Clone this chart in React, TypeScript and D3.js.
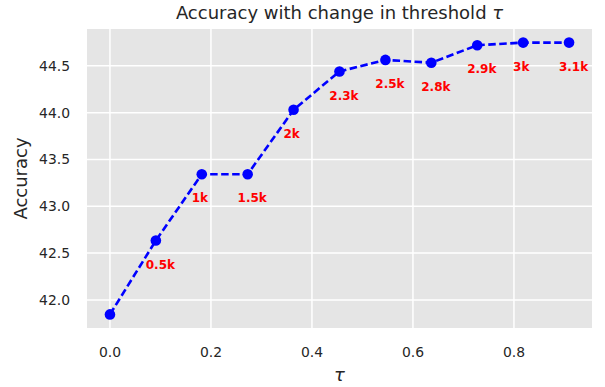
import { useMemo } from "react";
import { line, scaleLinear } from "d3";

const WIDTH = 605;
const HEIGHT = 387;
const MARGIN = { top: 29, right: 13, bottom: 59, left: 87 };

const TAU = [0, 0.0909, 0.1818, 0.2727, 0.3636, 0.4545, 0.5455, 0.6364, 0.7273, 0.8182, 0.9091];
const ACCURACY = [41.845, 42.634, 43.342, 43.342, 44.03, 44.44, 44.563, 44.533, 44.72, 44.748, 44.748];
const SIZES = ["", "0.5k", "1k", "1.5k", "2k", "2.3k", "2.5k", "2.8k", "2.9k", "3k", "3.1k"];
const X_TICKS = [0, 0.2, 0.4, 0.6, 0.8];
const Y_TICKS = [42.0, 42.5, 43.0, 43.5, 44.0, 44.5];

const FONT = "'DejaVu Sans', sans-serif";
const TEXT = "#262626";

export default function App() {
  const innerW = WIDTH - MARGIN.left - MARGIN.right;
  const innerH = HEIGHT - MARGIN.top - MARGIN.bottom;

  // matplotlib-style 5% margins around the data
  const xScale = useMemo(() => {
    const lo = Math.min(...TAU);
    const hi = Math.max(...TAU);
    const pad = (hi - lo) * 0.05;
    return scaleLinear().domain([lo - pad, hi + pad]).range([MARGIN.left, MARGIN.left + innerW]);
  }, [innerW]);
  const yScale = useMemo(() => {
    const lo = Math.min(...ACCURACY);
    const hi = Math.max(...ACCURACY);
    const pad = (hi - lo) * 0.05;
    return scaleLinear().domain([lo - pad, hi + pad]).range([MARGIN.top + innerH, MARGIN.top]);
  }, [innerH]);

  const path = line<number>()
    .x((_, i) => xScale(TAU[i]))
    .y((v) => yScale(v))(ACCURACY);

  return (
    <svg width={WIDTH} height={HEIGHT} style={{ position: "absolute", left: 0, top: 0, fontFamily: FONT }}>
      <rect x={0} y={0} width={WIDTH} height={HEIGHT} fill="#ffffff" />
      <rect x={MARGIN.left} y={MARGIN.top} width={innerW} height={innerH} fill="#e5e5e5" />
      {X_TICKS.map((t) => (
        <line key={`gx${t}`} x1={xScale(t)} x2={xScale(t)} y1={MARGIN.top} y2={MARGIN.top + innerH} stroke="#ffffff" strokeWidth={1.5} />
      ))}
      {Y_TICKS.map((t) => (
        <line key={`gy${t}`} x1={MARGIN.left} x2={MARGIN.left + innerW} y1={yScale(t)} y2={yScale(t)} stroke="#ffffff" strokeWidth={1.5} />
      ))}
      {X_TICKS.map((t) => (
        <text key={`tx${t}`} x={xScale(t)} y={357} textAnchor="middle" fontSize={13.9} fill={TEXT}>
          {t.toFixed(1)}
        </text>
      ))}
      {Y_TICKS.map((t) => (
        <text key={`ty${t}`} x={70} y={yScale(t)} dy="0.36em" textAnchor="end" fontSize={13.9} fill={TEXT}>
          {t.toFixed(1)}
        </text>
      ))}
      {path ? <path d={path} fill="none" stroke="#0000ff" strokeWidth={2.6} strokeDasharray="7.5,3.5" /> : null}
      {ACCURACY.map((v, i) => (
        <circle key={`p${i}`} cx={xScale(TAU[i])} cy={yScale(v)} r={5.3} fill="#0000ff" />
      ))}
      {ACCURACY.map((v, i) =>
        SIZES[i] ? (
          <text key={`a${i}`} x={xScale(TAU[i] - 0.02)} y={yScale(v - 0.3)} fontSize={12} fontWeight="bold" fill="#ff0000">
            {SIZES[i]}
          </text>
        ) : null
      )}
      <text x={MARGIN.left + innerW / 2} y={19} textAnchor="middle" fontSize={18} fill={TEXT}>
        Accuracy with change in threshold <tspan fontStyle="italic">τ</tspan>
      </text>
      <text transform={`translate(27,${MARGIN.top + innerH / 2}) rotate(-90)`} textAnchor="middle" fontSize={18} fill={TEXT}>
        Accuracy
      </text>
      <text x={MARGIN.left + innerW / 2} y={381} textAnchor="middle" fontSize={18} fontStyle="italic" fill={TEXT}>
        τ
      </text>
    </svg>
  );
}
